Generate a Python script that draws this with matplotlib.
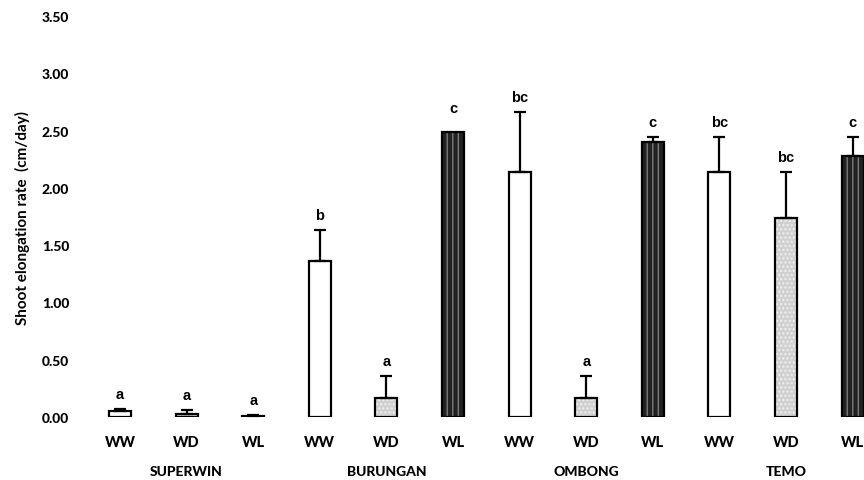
import numpy as np
import matplotlib
matplotlib.use('Agg')
import matplotlib.pyplot as plt

# data
varieties = ['SUPERWIN', 'BURUNGAN', 'OMBONG', 'TEMO']
treatments = ['WW', 'WD', 'WL']
means = [0.05, 0.03, 0.01,
         1.36, 0.17, 2.49,
         2.14, 0.17, 2.40,
         2.14, 1.74, 2.28]
errs = [0.02, 0.03, 0.01,
        0.27, 0.19, 0.00,
        0.52, 0.19, 0.04,
        0.30, 0.40, 0.16]
letters = ['a', 'a', 'a',
           'b', 'a', 'c',
           'bc', 'a', 'c',
           'bc', 'bc', 'c']

plt.rcParams['font.family'] = ['Lato', 'DejaVu Sans']

fig = plt.figure(figsize=(8.64, 4.81), dpi=100)
ax = fig.add_axes([86 / 864, 63 / 481, 778 / 864, 401 / 481])

x = np.arange(len(means))
labels = treatments * len(varieties)
face = {'WW': 'white', 'WD': '#d0d0d0', 'WL': '#222222'}
hatchc = {'WW': 'white', 'WD': '#f0f0f0', 'WL': '#7a7a7a'}
hatch = {'WW': None, 'WD': '....', 'WL': '|||'}
w = 0.33

for i in range(len(means)):
    t = labels[i]
    ax.bar(x[i], means[i], w, color=face[t], edgecolor=hatchc[t],
           hatch=hatch[t], linewidth=0)
    ax.bar(x[i], means[i], w, color='none', edgecolor='black', linewidth=1.6)
    if errs[i] > 0:
        ax.errorbar(x[i], means[i], yerr=[[0], [errs[i]]], fmt='none',
                    ecolor='black', elinewidth=1.6, capsize=4, capthick=1.6)
    top = means[i] + errs[i]
    off = 0.07 if errs[i] > 0 else 0.15
    ax.text(x[i], top + off, letters[i], ha='center', va='bottom',
            fontsize=10.5, fontweight='bold', family='Liberation Sans')

ax.set_xlim((86 - 120) / 66.6, (864 - 120) / 66.6)
ax.set_ylim(0, 3.5)
ax.set_yticks(np.arange(0, 3.51, 0.5))
ax.set_yticklabels(['%.2f' % v for v in np.arange(0, 3.51, 0.5)],
                   fontsize=10, fontweight='black')
ax.set_xticks(x)
ax.set_xticklabels(labels, fontsize=10.5, fontweight='black')
ax.tick_params(length=0, axis='y', pad=12)
ax.tick_params(length=0, axis='x', pad=13)
for s in ax.spines.values():
    s.set_visible(False)

for j, v in enumerate(varieties):
    ax.text(3 * j + 1, -0.47, v, ha='center', va='center', fontsize=10,
            fontweight='black', transform=ax.transData, clip_on=False)

fig.text(22 / 864, 1 - 218 / 481, 'Shoot elongation rate  (cm/day)',
         rotation=90, ha='center', va='center', fontsize=11, fontweight='bold')

fig.savefig('out.png', dpi=100)
